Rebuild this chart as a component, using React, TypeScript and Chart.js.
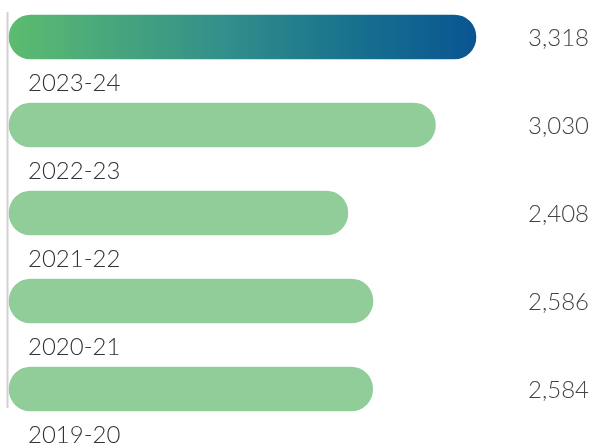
import React, { useEffect, useRef } from "react";
import { Chart, registerables } from "chart.js";

Chart.register(...registerables);

const categories = ["2023-24", "2022-23", "2021-22", "2020-21", "2019-20"];
const values = [3318, 3030, 2408, 2586, 2584];
const valueLabels = ["3,318", "3,030", "2,408", "2,586", "2,584"];

const FONT = "Lato, 'Open Sans', sans-serif";

const labelsPlugin = {
  id: "customLabels",
  afterDatasetsDraw(chart: any) {
    const { ctx, chartArea } = chart;
    const meta = chart.getDatasetMeta(0);
    ctx.save();
    // left gray rule
    ctx.strokeStyle = "#d2d2d2";
    ctx.lineWidth = 2;
    ctx.beginPath();
    ctx.moveTo(chartArea.left - 1.5, chartArea.top - 25);
    ctx.lineTo(chartArea.left - 1.5, chartArea.bottom + 19);
    ctx.stroke();

    meta.data.forEach((bar: any, i: number) => {
      const cy = bar.y;
      ctx.font = `300 24px ${FONT}`;
      ctx.fillStyle = "#333333";
      ctx.textAlign = "left";
      ctx.textBaseline = "middle";
      ctx.fillText(categories[i], chartArea.left + 19, cy + 46);

      ctx.fillStyle = "#444444";
      ctx.textAlign = "right";
      ctx.fillText(valueLabels[i], 589, cy + 1.5);
    });
    ctx.restore();
  },
};

export default function App() {
  const ref = useRef<HTMLCanvasElement | null>(null);

  useEffect(() => {
    const canvas = ref.current;
    if (!canvas) return;
    const chart = new Chart(canvas, {
      type: "bar",
      data: {
        labels: categories,
        datasets: [
          {
            data: values,
            backgroundColor: (c: any) => {
              const { chart: ch } = c;
              const area = ch.chartArea;
              if (c.dataIndex === 0 && area) {
                const g = ch.ctx.createLinearGradient(area.left, 0, ch.scales.x.getPixelForValue(values[0]), 0);
                g.addColorStop(0, "#5cbc6f");
                g.addColorStop(0.45, "#33908a");
                g.addColorStop(0.75, "#16708e");
                g.addColorStop(1, "#0a5592");
                return g;
              }
              return "#91cd99";
            },
            borderRadius: 22,
            borderSkipped: false,
            barThickness: 44,
            clip: false,
          } as any,
        ],
      },
      options: {
        indexAxis: "y",
        animation: false,
        responsive: false,
        maintainAspectRatio: false,
        layout: { padding: { left: 9, top: 37, bottom: 55, right: 90.4 } },
        plugins: { legend: { display: false }, tooltip: { enabled: false } },
        scales: {
          x: { display: false, min: 0, max: 3500 },
          y: { display: false, offset: false },
        },
      },
      plugins: [labelsPlugin],
    });
    return () => chart.destroy();
  }, []);

  return (
    <div style={{ position: "absolute", left: 0, top: 0, width: 592, height: 444, background: "#fff" }}>
      <canvas ref={ref} width={592} height={444} style={{ width: 592, height: 444, display: "block" }} />
    </div>
  );
}
